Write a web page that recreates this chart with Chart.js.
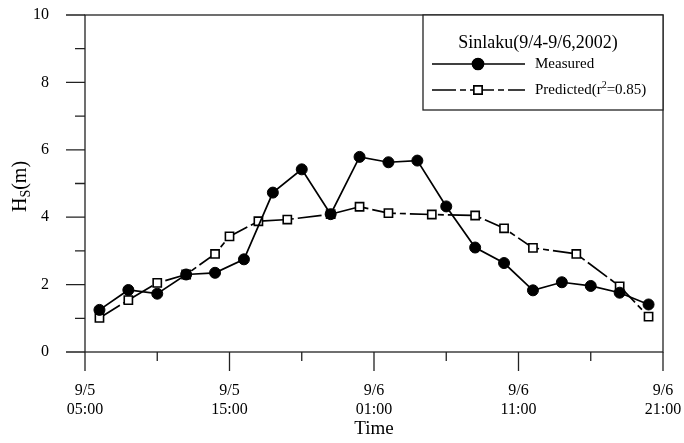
<!DOCTYPE html>
<html>
<head>
<meta charset="utf-8">
<script src="https://cdn.jsdelivr.net/npm/chart.js@4"></script>
<style>
  html, body { margin: 0; padding: 0; background: #fff; }
  canvas { display: block; }
</style>
</head>
<body>
<canvas id="myChart" width="684" height="443"></canvas>
<script>
// hours after 9/5 05:00
const measuredHours = [1, 3, 5, 7, 9, 11, 13, 15, 17, 19, 21, 23, 25, 27, 29, 31, 33, 35, 37, 39]
const measuredHs = [1.25, 1.84, 1.73, 2.30, 2.35, 2.75, 4.73, 5.42, 4.09, 5.79, 5.63, 5.68, 4.32, 3.10, 2.64, 1.83, 2.07, 1.96, 1.76, 1.41]

const predictedHours = [1, 3, 5, 7, 9, 10, 12, 14, 17, 19, 21, 24, 27, 29, 31, 34, 37, 39]
const predictedHs = [1.01, 1.54, 2.05, 2.30, 2.91, 3.43, 3.88, 3.93, 4.09, 4.31, 4.12, 4.08, 4.05, 3.67, 3.09, 2.91, 1.95, 1.05]

// x tick labels
const xTickHours = [0, 10, 20, 30, 40]
const xTickDates = ['9/5', '9/5', '9/6', '9/6', '9/6']
const xTickTimes = ['05:00', '15:00', '01:00', '11:00', '21:00']

const legendTitle = 'Sinlaku(9/4-9/6,2002)'
const FONT = '"Liberation Serif", "Times New Roman", serif'

const toPoints = (xs, ys) => xs.map((x, i) => ({ x, y: ys[i] }))

// box round the plot + long/short tick marks
const frame = {
  id: 'frame',
  beforeDatasetsDraw(chart) {
    const { ctx, chartArea: a, scales: { x, y } } = chart
    ctx.save()
    ctx.strokeStyle = '#222'
    ctx.lineWidth = 1.3
    ctx.strokeRect(a.left, a.top, a.right - a.left, a.bottom - a.top)
    ctx.beginPath()
    x.ticks.forEach(t => {
      const px = x.getPixelForValue(t.value)
      const len = t.value % 10 === 0 ? 19 : 9
      ctx.moveTo(px, a.bottom)
      ctx.lineTo(px, a.bottom + len)
    })
    y.ticks.forEach(t => {
      const py = y.getPixelForValue(t.value)
      const len = t.value % 2 === 0 ? 19 : 10
      ctx.moveTo(a.left, py)
      ctx.lineTo(a.left - len, py)
    })
    ctx.stroke()
    ctx.restore()
  },
  afterDraw(chart) {
    const { ctx, chartArea: a } = chart

    // y title H_S(m)
    ctx.save()
    ctx.fillStyle = '#000'
    ctx.translate(20, (a.top + a.bottom) / 2 + 3)
    ctx.rotate(-Math.PI / 2)
    ctx.font = '20px ' + FONT
    const wH = ctx.measureText('H').width
    const wP = ctx.measureText('(m)').width
    ctx.font = '14px ' + FONT
    const wS = ctx.measureText('S').width
    let cx = -(wH + wS + wP) / 2
    ctx.textBaseline = 'alphabetic'
    ctx.font = '20px ' + FONT
    ctx.fillText('H', cx, 6)
    cx += wH
    ctx.font = '14px ' + FONT
    ctx.fillText('S', cx, 10)
    cx += wS
    ctx.font = '20px ' + FONT
    ctx.fillText('(m)', cx, 6)
    ctx.restore()

    // legend box
    const bx = a.right - 240
    const by = a.top
    ctx.save()
    ctx.fillStyle = '#fff'
    ctx.fillRect(bx, by, 240, 95)
    ctx.strokeStyle = '#222'
    ctx.lineWidth = 1.3
    ctx.strokeRect(bx, by, 240, 95)
    ctx.fillStyle = '#000'
    ctx.textBaseline = 'middle'
    ctx.textAlign = 'center'
    ctx.font = '18px ' + FONT
    ctx.fillText(legendTitle, bx + 115, by + 28)

    const rows = [by + 49, by + 75]
    chart.data.datasets.forEach((ds, i) => {
      const ry = rows[i]
      ctx.save()
      ctx.strokeStyle = ds.borderColor
      ctx.lineWidth = ds.borderWidth
      ctx.setLineDash(ds.borderDash || [])
      ctx.beginPath()
      ctx.moveTo(bx + 9, ry)
      ctx.lineTo(bx + 102, ry)
      ctx.stroke()
      ctx.setLineDash([])
      Chart.helpers.drawPoint(ctx, {
        pointStyle: ds.pointStyle,
        radius: ds.pointRadius,
        borderWidth: ds.pointBorderWidth
      }, bx + 55, ry)
      ctx.fillStyle = ds.pointBackgroundColor
      ctx.strokeStyle = ds.borderColor
      ctx.lineWidth = ds.pointBorderWidth
      ctx.fill()
      ctx.stroke()
      ctx.restore()
    })

    ctx.textAlign = 'left'
    ctx.font = '15px ' + FONT
    ctx.fillText('Measured', bx + 112, rows[0])
    let tx = bx + 112
    ctx.fillText('Predicted(r', tx, rows[1])
    tx += ctx.measureText('Predicted(r').width
    ctx.font = '10px ' + FONT
    ctx.fillText('2', tx, rows[1] - 5)
    tx += ctx.measureText('2').width
    ctx.font = '15px ' + FONT
    ctx.fillText('=0.85)', tx, rows[1])
    ctx.restore()
  }
}

const ctx = document.getElementById('myChart')

new Chart(ctx, {
  type: 'line',
  data: {
    datasets: [
      {
        label: 'Measured',
        data: toPoints(measuredHours, measuredHs),
        borderColor: '#000',
        borderWidth: 1.7,
        pointStyle: 'circle',
        pointRadius: 5.5,
        pointBorderWidth: 1,
        pointBackgroundColor: '#000',
        pointBorderColor: '#000',
        tension: 0
      },
      {
        label: 'Predicted(r²=0.85)',
        data: toPoints(predictedHours, predictedHs),
        borderColor: '#000',
        borderWidth: 1.7,
        borderDash: [24, 4, 6, 4],
        pointStyle: 'rect',
        pointRadius: 5.8,
        pointBorderWidth: 1.6,
        pointBackgroundColor: '#fff',
        pointBorderColor: '#000',
        tension: 0
      }
    ]
  },
  options: {
    responsive: false,
    animation: false,
    layout: { padding: { top: 15, right: 21, left: 0, bottom: 0 } },
    plugins: {
      legend: { display: false },
      tooltip: { enabled: false }
    },
    scales: {
      x: {
        type: 'linear',
        min: 0,
        max: 40,
        afterFit: s => {
          s.height = 91
          s.paddingLeft = 0
          s.paddingRight = 0
        },
        grid: { display: false },
        border: { display: false },
        ticks: {
          stepSize: 5,
          autoSkip: false,
          maxRotation: 0,
          padding: 21,
          color: '#000',
          font: { family: FONT, size: 16, lineHeight: 1.2 },
          callback: v => {
            const i = xTickHours.indexOf(v)
            return i < 0 ? '' : [xTickDates[i], xTickTimes[i]]
          }
        },
        title: {
          display: true,
          text: 'Time',
          color: '#000',
          font: { family: FONT, size: 19, lineHeight: 1.2 },
          padding: { top: 0, bottom: 3 }
        }
      },
      y: {
        min: 0,
        max: 10,
        afterFit: s => {
          s.width = 85
          s.paddingTop = 0
          s.paddingBottom = 0
        },
        grid: { display: false },
        border: { display: false },
        ticks: {
          stepSize: 1,
          padding: 28,
          color: '#000',
          font: { family: FONT, size: 16 },
          callback: v => (v % 2 === 0 ? v : '')
        }
      }
    }
  },
  plugins: [frame]
})
</script>
</body>
</html>
